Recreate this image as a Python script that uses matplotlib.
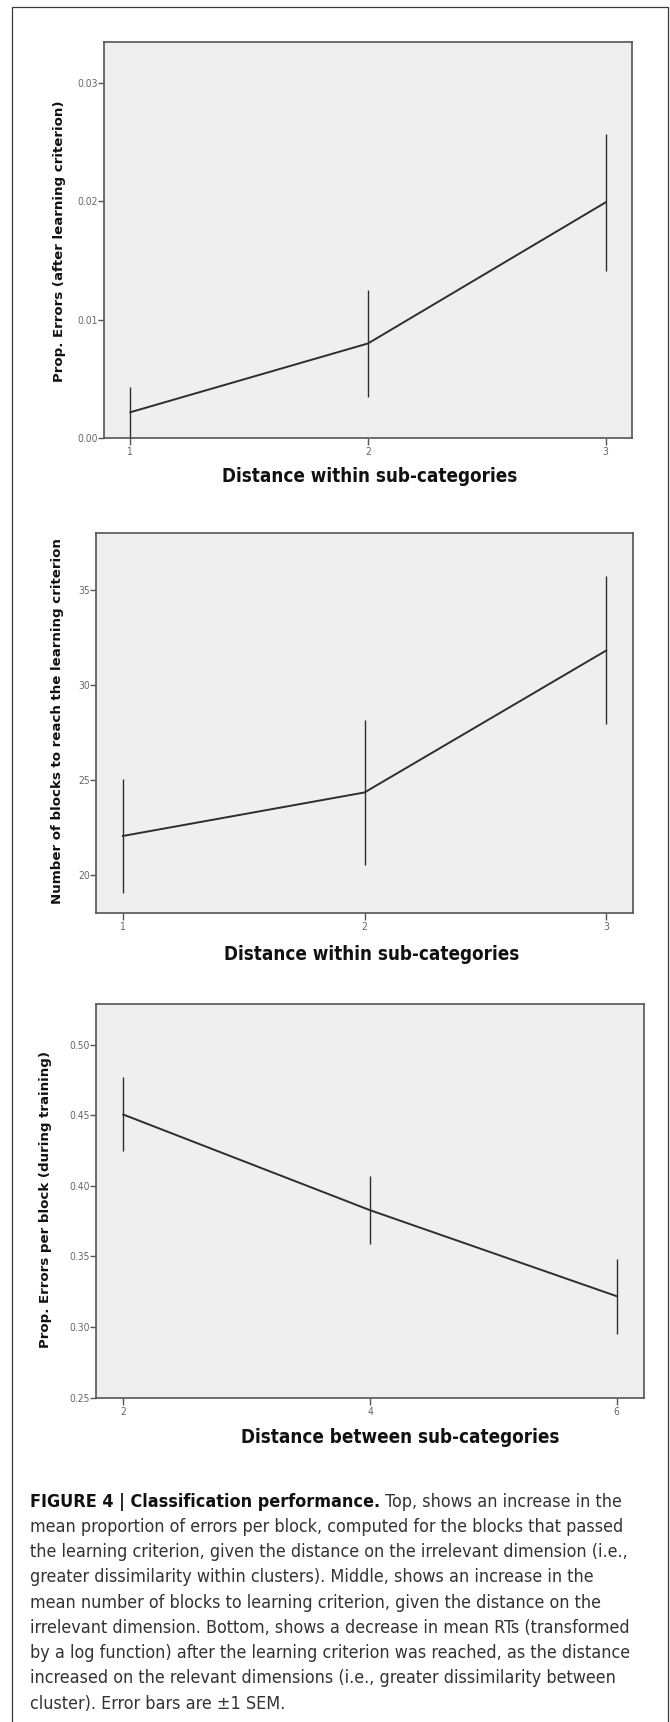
import os
import matplotlib
matplotlib.use("Agg")
import matplotlib.pyplot as plt
from matplotlib import font_manager as fm
from matplotlib.patches import Rectangle
from matplotlib.ticker import FixedLocator, FormatStrFormatter

# ---------------- data ----------------
x_within = [1, 2, 3]
err_after_mean = [0.0022, 0.0080, 0.0199]
err_after_lo = [0.0000, 0.0035, 0.0141]
err_after_hi = [0.0043, 0.0125, 0.0257]
err_after_ticks = [0.00, 0.01, 0.02, 0.03]

blocks_mean = [22.07, 24.36, 31.83]
blocks_lo = [19.05, 20.56, 27.97]
blocks_hi = [25.06, 28.15, 35.74]
blocks_ticks = [20, 25, 30, 35]

x_between = [2, 4, 6]
err_train_mean = [0.4505, 0.3828, 0.3219]
err_train_lo = [0.4245, 0.3585, 0.2951]
err_train_hi = [0.4772, 0.4069, 0.3479]
err_train_ticks = [0.25, 0.30, 0.35, 0.40, 0.45, 0.50]

ylabels = ["Prop. Errors (after learning criterion)",
           "Number of blocks to reach the learning criterion",
           "Prop. Errors per block (during training)"]
xlabels = ["Distance within sub-categories",
           "Distance within sub-categories",
           "Distance between sub-categories"]

caption_bold = "FIGURE 4 | Classification performance."
caption_first = " Top, shows an increase in the"
caption_lines = [
    "mean proportion of errors per block, computed for the blocks that passed",
    "the learning criterion, given the distance on the irrelevant dimension (i.e.,",
    "greater dissimilarity within clusters). Middle, shows an increase in the",
    "mean number of blocks to learning criterion, given the distance on the",
    "irrelevant dimension. Bottom, shows a decrease in mean RTs (transformed",
    "by a log function) after the learning criterion was reached, as the distance",
    "increased on the relevant dimensions (i.e., greater dissimilarity between",
    "cluster). Error bars are \u00b11 SEM.",
]

# ---------------- fonts ----------------
W, H = 670, 1722
_files = set(fm.findSystemFonts()) | {f.fname for f in fm.fontManager.ttflist}


def find_font(names, fallback_family="DejaVu Sans", weight="normal", stretch="normal"):
    for n in names:
        for f in _files:
            if os.path.basename(f).lower() == n.lower():
                return fm.FontProperties(fname=f)
    return fm.FontProperties(family=fallback_family, weight=weight, stretch=stretch)


cond_bold = find_font(["DejaVuSansCondensed-Bold.ttf", "LiberationSansNarrow-Bold.ttf"],
                      weight="bold")
cond_reg = find_font(["DejaVuSansCondensed.ttf", "LiberationSansNarrow-Regular.ttf"])
narrow_reg = find_font(["LiberationSansNarrow-Regular.ttf", "DejaVuSansCondensed.ttf"])
narrow_bold = find_font(["LiberationSansNarrow-Bold.ttf", "DejaVuSansCondensed-Bold.ttf"],
                        weight="bold")
wide_bold = fm.FontProperties(family="DejaVu Sans", weight="bold")

fig = plt.figure(figsize=(W / 100, H / 100), dpi=100)
fig.patch.set_facecolor("white")


def px_axes(l, t, r, b):
    return fig.add_axes([l / W, 1 - b / H, (r - l) / W, (b - t) / H])


def fx(x):
    return x / W


def fy(y):
    return 1 - y / H


# outer frame
fig.patches.append(Rectangle((fx(12.5), fy(H + 5)), fx(668) - fx(12.5), fy(6.7) - fy(H + 5),
                             transform=fig.transFigure, fill=False, edgecolor="#3a3a3a",
                             linewidth=0.9, clip_on=False))

LINE = "#2e2e2e"
SPINE = "#555555"


def style(ax, xs, ylim, xlim, yticks, fmt):
    ax.set_facecolor("#efefef")
    for s in ax.spines.values():
        s.set_color(SPINE)
        s.set_linewidth(1.2)
    ax.set_xlim(*xlim)
    ax.set_ylim(*ylim)
    ax.xaxis.set_major_locator(FixedLocator(xs))
    ax.yaxis.set_major_locator(FixedLocator(yticks))
    ax.yaxis.set_major_formatter(FormatStrFormatter(fmt))
    ax.tick_params(axis="both", direction="out", color=SPINE, width=1.0,
                   labelcolor="#666666")
    ax.tick_params(axis="y", length=4, pad=0.5)
    ax.tick_params(axis="x", length=5, pad=1.5)
    for lab in ax.get_xticklabels() + ax.get_yticklabels():
        lab.set_fontproperties(cond_reg)
        lab.set_fontsize(7.4)


def draw(ax, xs, mean, lo, hi):
    yerr = [[m - l for m, l in zip(mean, lo)], [h - m for m, h in zip(mean, hi)]]
    ax.errorbar(xs, mean, yerr=yerr, color=LINE, ecolor=LINE, elinewidth=1.0,
                capsize=0, linewidth=1.4, clip_on=False, zorder=3)


# panel 1
ax1 = px_axes(104, 42.3, 632, 438.3)
draw(ax1, x_within, err_after_mean, err_after_lo, err_after_hi)
style(ax1, x_within, (0, 0.0334), (0.889, 3.111), err_after_ticks, "%.2f")

# panel 2
ax2 = px_axes(96, 533.3, 633, 913.3)
draw(ax2, x_within, blocks_mean, blocks_lo, blocks_hi)
style(ax2, x_within, (18.0, 38.0), (0.889, 3.111), blocks_ticks, "%d")

# panel 3
ax3 = px_axes(96, 1004.3, 644, 1397.7)
draw(ax3, x_between, err_train_mean, err_train_lo, err_train_hi)
style(ax3, x_between, (0.25, 0.5286), (1.778, 6.222), err_train_ticks, "%.2f")

# axis titles
ylab_pos = [(60, 241.5), (57.7, 720.8), (46, 1199)]
xlab_pos = [(369.5, 476.7), (372, 954), (400, 1437.3)]
for (x, y), t in zip(ylab_pos, ylabels):
    fig.text(fx(x), fy(y), t, rotation=90, ha="center", va="center",
             fontproperties=wide_bold, fontsize=9.6, color="#111111")
for (x, y), t in zip(xlab_pos, xlabels):
    fig.text(fx(x), fy(y), t, ha="center", va="center",
             fontproperties=cond_bold, fontsize=13.5, color="#111111")

# caption
cap_x = 30
cap_y0 = 1501.7
cap_dy = 25.25
cap_size = 12.9
fig.canvas.draw()
renderer = fig.canvas.get_renderer()
tb = fig.text(fx(cap_x), fy(cap_y0), caption_bold, ha="left", va="center",
              fontproperties=narrow_bold, fontsize=cap_size, color="#111111")
bb = tb.get_window_extent(renderer=renderer)
fig.text(bb.x1 / W, fy(cap_y0), caption_first, ha="left", va="center",
         fontproperties=narrow_reg, fontsize=cap_size, color="#333333")
for i, line in enumerate(caption_lines):
    fig.text(fx(cap_x), fy(cap_y0 + (i + 1) * cap_dy), line, ha="left", va="center",
             fontproperties=narrow_reg, fontsize=cap_size, color="#333333")

fig.savefig("out.png", dpi=100, facecolor="white")
